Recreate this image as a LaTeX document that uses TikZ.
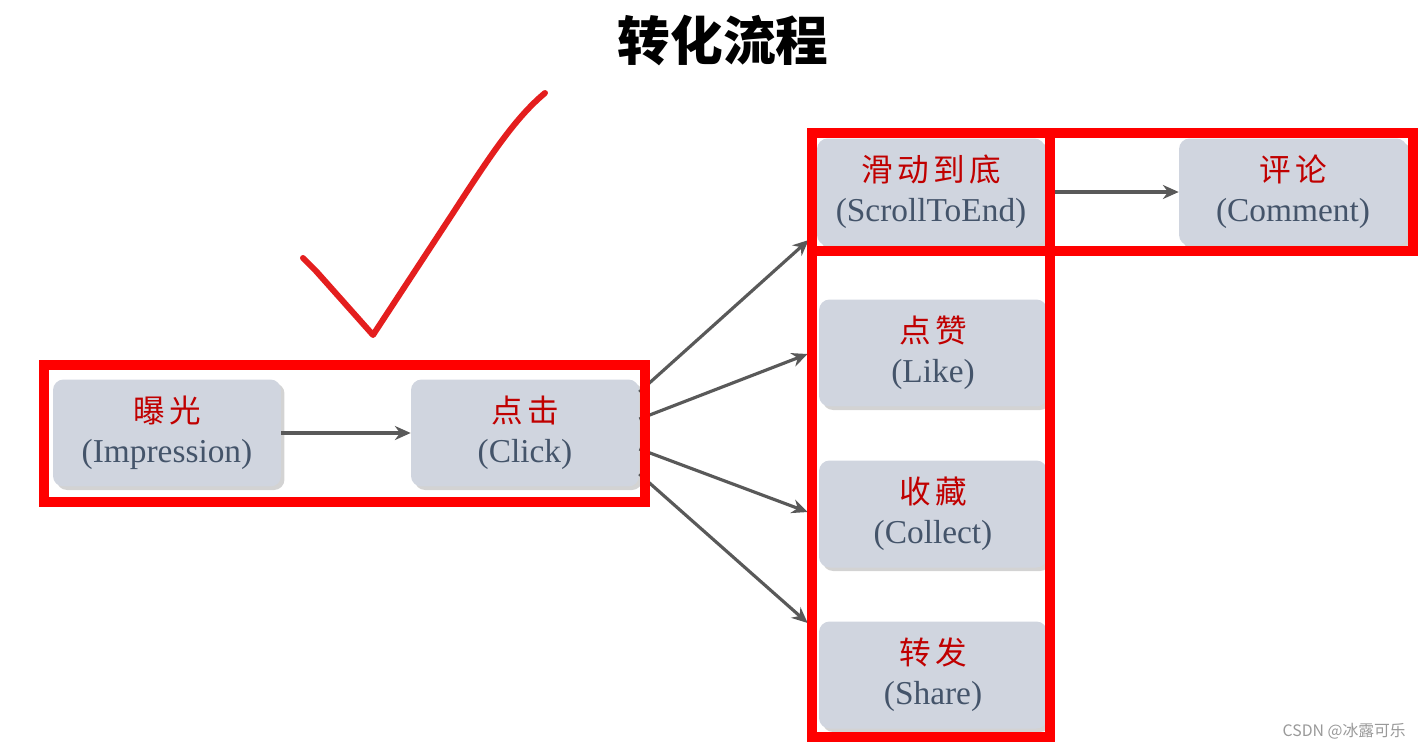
\documentclass[tikz,border=0pt]{standalone}
\usepackage{fontspec}
\setmainfont{Liberation Serif}
\newfontfamily\cjkfont[LetterSpace=14]{Noto Sans CJK SC}
\newfontfamily\cjktitle{Noto Sans CJK SC}
\newfontfamily\cjkmark{Noto Sans CJK SC}
\usetikzlibrary{
  arrows.meta,
  calc,
  shadows
}
\definecolor{caixafill}{HTML}{D0D5DF}
\definecolor{rotulo}{HTML}{C00000}
\definecolor{ingles}{HTML}{44546A}
\definecolor{seta}{HTML}{595959}
\definecolor{moldura}{HTML}{FF0000}
\definecolor{visto}{HTML}{E41E1E}

\newcommand{\etapa}[2]{{\cjkfont\fontsize{18}{22}\selectfont\color{rotulo}#1}\\[7pt]{\fontsize{19}{23}\selectfont\color{ingles}#2}}

\begin{document}
\begin{tikzpicture}[
    x=0.02cm, y=-0.02cm,
    caixa/.style={
    rounded corners=6pt,
    minimum width=4.56cm,
    minimum height=2.14cm,
    align=center,
    fill=caixafill,
    inner sep=2pt,
    drop shadow={opacity=0.35, shadow xshift=2pt, shadow yshift=-2pt}
    },
    setaf/.style={-{Stealth[length=9pt,width=8pt]},line width=1.8pt,draw=seta},
    quadro/.style={draw=moldura,line width=0.2cm}
    ]
    \useasboundingbox (0,0) rectangle (1426,751);

    \node[font=\cjktitle\bfseries\fontsize{30}{36}\selectfont] (titulo) at (723,41)
    {转化流程};

    % caixas
    \node[caixa] (imp) at (167,433) {\etapa{曝光}{(Impression)}};
    \node[caixa] (click) at (525,433) {\etapa{点击}{(Click)}};
    \node[caixa] (scroll) at (931,192) {\etapa{滑动到底}{(ScrollToEnd)}};
    \node[caixa] (like) at (933,353) {\etapa{点赞}{(Like)}};
    \node[caixa] (collect) at (933,514) {\etapa{收藏}{(Collect)}};
    \node[caixa] (share) at (933,675) {\etapa{转发}{(Share)}};
    \node[caixa] (comment) at (1293,192) {\etapa{评论}{(Comment)}};

    % setas
    \draw[setaf] (imp) -- (click);
    \draw[setaf] ($(click.east)+(0,-41)$) -- ($(scroll.west)+(-8,48)$);
    \draw[setaf] ($(click.east)+(0,-14)$) -- ($(like.west)+(-11,1)$);
    \draw[setaf] ($(click.east)+(0,16)$) -- ($(collect.west)+(-11,-2)$);
    \draw[setaf] ($(click.east)+(0,41)$) -- ($(share.west)+(-11,-52)$);
    \draw[setaf] (scroll.east) -- (comment.west);

    % molduras vermelhas
    \draw[quadro] (44,365) rectangle (645,502);
    \draw[quadro] (812,133) rectangle (1050,251);
    \draw[quadro] (1050,133) rectangle (1413,251);
    \draw[quadro] (812,251) rectangle (1050,737);

    % visto
    \draw[visto,line width=0.12cm,line cap=round,line join=round]
    (303,258) -- (316,271) -- (373,335) -- (453,213) .. controls (490,156) and (515,118) .. (545,93);

    \node[anchor=east,text=black!40,font=\cjkmark\fontsize{9}{11}\selectfont] (marca) at (1412,731)
    {CSDN @冰露可乐};
\end{tikzpicture}
\end{document}
